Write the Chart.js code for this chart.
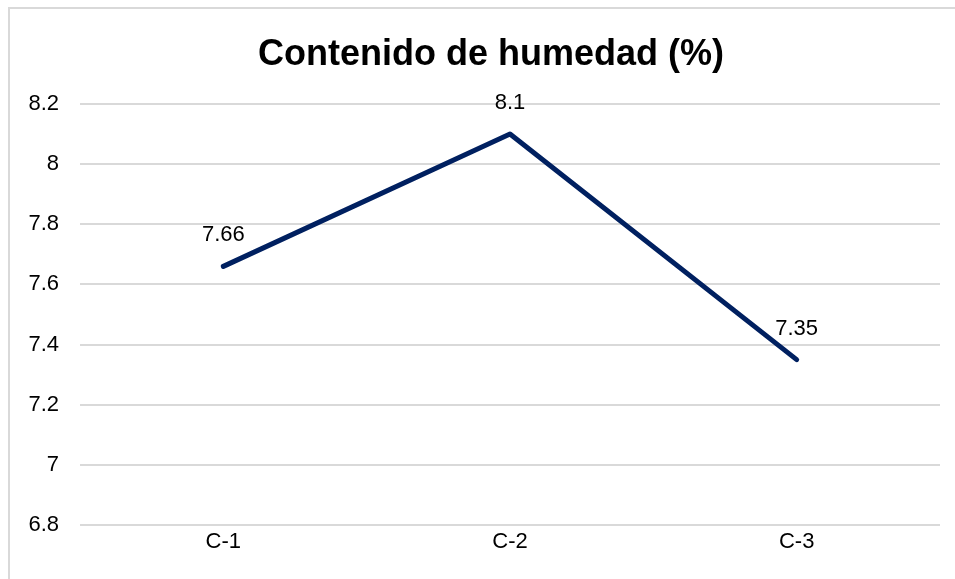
<!DOCTYPE html>
<html>
<head>
<meta charset="utf-8">
<title>Contenido de humedad</title>
<script src="https://cdn.jsdelivr.net/npm/chart.js@4.4.0/dist/chart.umd.min.js"></script>
<style>
	html, body { margin: 0; padding: 0; background: #fff; overflow: hidden; }
	#chart-box {
		position: absolute;
		left: 8px;
		top: 7px;
		width: 962px;
		height: 580px;
		border: 2px solid #d9d9d9;
	}
</style>
</head>
<body>
<div id="chart-box">
	<canvas id="myChart" width="962" height="580"></canvas>
</div>
<script>
	// Data
	let categories = ["C-1", "C-2", "C-3"];
	let humedad = [7.66, 8.1, 7.35];
	let yTicks = [6.8, 7, 7.2, 7.4, 7.6, 7.8, 8, 8.2];

	let fontFamily = '"Liberation Sans", Arial, sans-serif';

	// value labels over the points
	let valueLabels = {
		id: 'valueLabels',
		afterDatasetsDraw: function (chart) {
			let c = chart.ctx;
			let meta = chart.getDatasetMeta(0);
			c.save();
			c.font = '22px ' + fontFamily;
			c.fillStyle = '#000';
			c.textAlign = 'center';
			c.textBaseline = 'middle';
			meta.data.forEach(function (pt, i) {
				c.fillText(String(humedad[i]), pt.x, pt.y - 31);
			});
			c.restore();
		}
	};

	// y scale box is narrow (to keep the title centred), let its labels use the left padding too
	let widenYScale = {
		id: 'widenYScale',
		afterLayout: function (chart) {
			let s = chart.scales.y;
			s.left = 0;
			s.width = s.right;
		}
	};

	var ctx = document.getElementById('myChart').getContext('2d');

	var chart = new Chart(ctx, {
		type: 'line',
		data: {
			labels: categories,
			datasets: [{
				label: 'Contenido de humedad (%)',
				data: humedad,
				borderColor: '#002060',
				backgroundColor: '#002060',
				borderWidth: 5,
				borderCapStyle: 'round',
				borderJoinStyle: 'round',
				pointRadius: 0,
				pointHoverRadius: 0,
				tension: 0
			}]
		},
		options: {
			responsive: false,
			animation: false,
			events: [],
			layout: { padding: { top: 0, right: 32, bottom: 0, left: 32 } },
			plugins: {
				legend: { display: false },
				tooltip: { enabled: false },
				title: {
					display: true,
					text: 'Contenido de humedad (%)',
					color: '#000',
					font: { family: fontFamily, size: 36, weight: 'bold', lineHeight: 1.2 },
					padding: { top: 24, bottom: 27.8 }
				}
			},
			scales: {
				x: {
					offset: true,
					grid: { display: false, drawTicks: false },
					border: { display: false },
					ticks: {
						color: '#000',
						font: { family: fontFamily, size: 22 },
						padding: 4,
						maxRotation: 0
					},
					afterFit: function (scale) { scale.height = 64; }
				},
				y: {
					min: yTicks[0],
					max: yTicks[yTicks.length - 1],
					afterBuildTicks: function (scale) {
						scale.ticks = yTicks.map(function (v) { return { value: v }; });
					},
					grid: { color: '#d9d9d9', lineWidth: 2, drawTicks: false },
					border: { display: false },
					ticks: {
						color: '#000',
						font: { family: fontFamily, size: 22 },
						padding: 21,
						callback: function (value) { return String(Math.round(value * 10) / 10); }
					},
					afterFit: function (scale) { scale.width = 38; }
				}
			}
		},
		plugins: [valueLabels, widenYScale]
	});
</script>
</body>
</html>
